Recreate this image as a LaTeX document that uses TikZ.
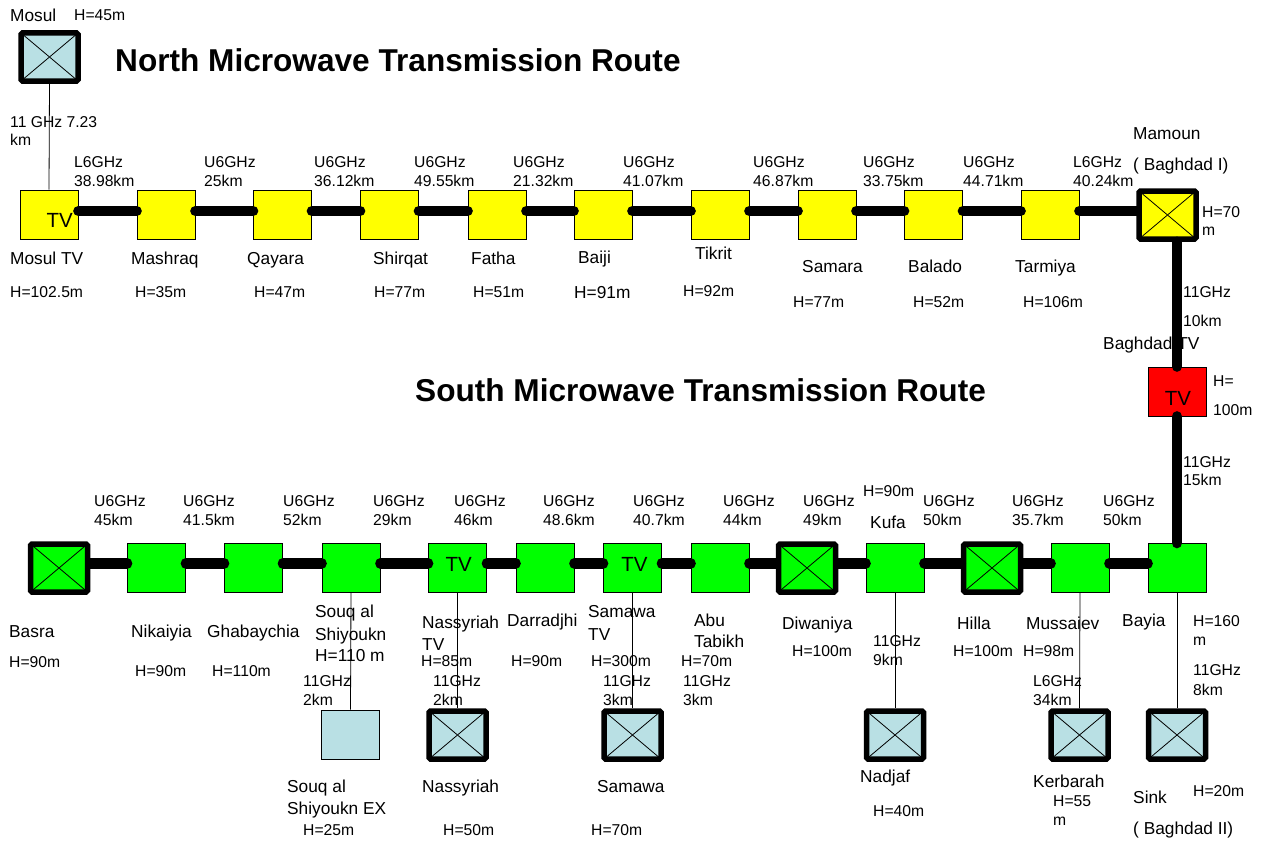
\documentclass[tikz,border=0pt]{standalone}
\usepackage{fontspec}
\setmainfont{Liberation Sans}
\definecolor{lb}{RGB}{185,224,228}
\definecolor{yel}{RGB}{255,255,0}
\definecolor{grn}{RGB}{0,255,0}
\definecolor{rd}{RGB}{255,0,0}
\tikzset{
  sm/.style={font=\fontsize{15.7}{18}\selectfont, anchor=base west, inner sep=0pt},
  bg/.style={font=\fontsize{17.3}{20}\selectfont, anchor=base west, inner sep=0pt},
  ttl/.style={font=\bfseries\fontsize{31.6}{36}\selectfont, anchor=base west, inner sep=0pt},
  tvtxt/.style={font=\fontsize{20.5}{24}\selectfont, anchor=base, inner sep=0pt},
  stbox/.style={draw, line width=0.8pt, minimum width=58pt, minimum height=49pt, inner sep=0pt},
  xbox/.style={draw, line width=5.5pt, rounded corners=1.5pt, minimum width=57pt, minimum height=48pt, inner sep=0pt,
    path picture={\draw[line width=0.8pt] (path picture bounding box.north west) -- (path picture bounding box.south east)
      (path picture bounding box.north east) -- (path picture bounding box.south west);}},
  link/.style={line width=10.5pt, line cap=round},
  spur/.style={line width=0.8pt},
}
\begin{document}
\begin{tikzpicture}[x=1pt,y=-1pt]
\useasboundingbox (0,0) rectangle (1263,843);
\fill[white] (0,0) rectangle (1263,843);
% ---------------- North boxes
\node[xbox, fill=lb] (mosul) at (49.5,57) {};
\node[stbox, fill=yel] (mosultv) at (49,214.5) {};
\node[stbox, fill=yel] (mashraq) at (166,214.5) {};
\node[stbox, fill=yel] (qayara) at (282.5,214.5) {};
\node[stbox, fill=yel] (shirqat) at (389.5,214.5) {};
\node[stbox, fill=yel] (fatha) at (497,214.5) {};
\node[stbox, fill=yel] (baiji) at (603,214.5) {};
\node[stbox, fill=yel] (tikrit) at (720,214.5) {};
\node[stbox, fill=yel] (samara) at (827,214.5) {};
\node[stbox, fill=yel] (balado) at (933.5,214.5) {};
\node[stbox, fill=yel] (tarmiya) at (1050,214.5) {};
\node[xbox, fill=yel] (mamoun) at (1167.5,215) {};
\node[stbox, fill=rd] (btv) at (1177,391.5) {};
% ---------------- South boxes
\node[xbox, fill=grn] (basra) at (59,568) {};
\node[stbox, fill=grn] (nikaiyia) at (156.5,568) {};
\node[stbox, fill=grn] (ghab) at (253.5,568) {};
\node[stbox, fill=grn] (souq) at (351,568) {};
\node[stbox, fill=grn] (nastv) at (457.5,568) {};
\node[stbox, fill=grn] (darr) at (545,568) {};
\node[stbox, fill=grn] (samtv) at (632.5,568) {};
\node[stbox, fill=grn] (abu) at (720,568) {};
\node[xbox, fill=grn] (diwan) at (807,568) {};
\node[stbox, fill=grn] (kufa) at (895,568) {};
\node[xbox, fill=grn] (hilla) at (992,568) {};
\node[stbox, fill=grn] (muss) at (1080,568) {};
\node[stbox, fill=grn] (bayia) at (1177,568) {};
% ---------------- Spur boxes
\node[stbox, fill=lb] (souqex) at (350.5,734.5) {};
\node[xbox, fill=lb] (nass) at (457.5,735) {};
\node[xbox, fill=lb] (samawa) at (632.5,735) {};
\node[xbox, fill=lb] (nadjaf) at (895,735) {};
\node[xbox, fill=lb] (kerb) at (1079.5,735) {};
\node[xbox, fill=lb] (sink) at (1177,735) {};
% ---------------- TV marks
\node[tvtxt] (tv1) at (59.7,227.3) {TV};
\node[tvtxt] (tv2) at (1178,405.7) {TV};
\node[tvtxt] (tv3) at (458.7,571.7) {TV};
\node[tvtxt] (tv4) at (634.5,571.7) {TV};
% ---------------- North links
\foreach \a/\b in {mosultv/mashraq, mashraq/qayara, qayara/shirqat, shirqat/fatha, fatha/baiji, baiji/tikrit, tikrit/samara, samara/balado, balado/tarmiya}
  \draw[link] ([yshift=3.5pt]\a.east) -- ([yshift=3.5pt]\b.west);
\draw[link] ([yshift=3.5pt]tarmiya.east) -- ([yshift=4pt]mamoun.west);
\draw[link] (mamoun.south -| btv.north) -- (btv.north);
\draw[link] (btv.south) -- (bayia.north);
% ---------------- South links
\foreach \a/\b in {basra/nikaiyia, nikaiyia/ghab, ghab/souq, souq/nastv, nastv/darr, darr/samtv, samtv/abu, abu/diwan, diwan/kufa, kufa/hilla, hilla/muss, muss/bayia}
  \draw[link] ([yshift=4.7pt]\a.east) -- ([yshift=4.7pt]\b.west);
% ---------------- Spurs
\draw[spur] (mosul.south) -- (mosultv.north);
\draw[spur] (souq.south) -- (souqex.north);
\draw[spur] (nastv.south) -- (nass.north);
\draw[spur] (samtv.south) -- (samawa.north);
\draw[spur] (kufa.south) -- (nadjaf.north);
\draw[spur] (muss.south) -- (kerb.north);
\draw[spur] (bayia.south) -- (sink.north);
% ---------------- Titles
\node[ttl] (ttln) at (115,71.7) {North Microwave Transmission Route};
\node[ttl] (ttls) at (415,401.7) {South Microwave Transmission Route};
% ---------------- North labels
\node[bg] (a01) at (10,21.5) {Mosul};
\node[sm] (a02) at (74,20.7) {H=45m};
\node[sm] (a03) at (10,127.7) {11 GHz 7.23};
\node[sm] (a04) at (10,145.7) {km};
\node[sm] (b01) at (74,167.3) {L6GHz};    \node[sm] (b02) at (74,186.5) {38.98km};
\node[sm] (b03) at (204,167.3) {U6GHz};   \node[sm] (b04) at (204,186.5) {25km};
\node[sm] (b05) at (314,167.3) {U6GHz};   \node[sm] (b06) at (314,186.5) {36.12km};
\node[sm] (b07) at (414,167.3) {U6GHz};   \node[sm] (b08) at (414,186.5) {49.55km};
\node[sm] (b09) at (513,167.3) {U6GHz};   \node[sm] (b10) at (513,186.5) {21.32km};
\node[sm] (b11) at (623,167.3) {U6GHz};   \node[sm] (b12) at (623,186.5) {41.07km};
\node[sm] (b13) at (753,167.3) {U6GHz};   \node[sm] (b14) at (753,186.5) {46.87km};
\node[sm] (b15) at (863,167.3) {U6GHz};   \node[sm] (b16) at (863,186.5) {33.75km};
\node[sm] (b17) at (963,167.3) {U6GHz};   \node[sm] (b18) at (963,186.5) {44.71km};
\node[sm] (b19) at (1073,167.3) {L6GHz};  \node[sm] (b20) at (1073,186.5) {40.24km};
\node[bg] (c01) at (1133,139.3) {Mamoun};
\node[bg] (c02) at (1133,170.5) {( Baghdad I)};
\node[sm] (c03) at (1202,217.3) {H=70};
\node[sm] (c04) at (1202,235.7) {m};
\node[bg] (d01) at (10,264.3) {Mosul TV};
\node[bg] (d02) at (131,264.3) {Mashraq};
\node[bg] (d03) at (247,264.3) {Qayara};
\node[bg] (d04) at (373,264.3) {Shirqat};
\node[bg] (d05) at (471,264.3) {Fatha};
\node[bg] (d06) at (578,263.5) {Baiji};
\node[bg] (d07) at (695,259) {Tikrit};
\node[bg] (d08) at (802,272.7) {Samara};
\node[bg] (d09) at (908,272.7) {Balado};
\node[bg] (d10) at (1015,272.7) {Tarmiya};
\node[sm] (e01) at (10,297.3) {H=102.5m};
\node[sm] (e02) at (135,297.3) {H=35m};
\node[sm] (e03) at (254,297.3) {H=47m};
\node[sm] (e04) at (374,297.3) {H=77m};
\node[sm] (e05) at (473,297.3) {H=51m};
\node[bg] (e06) at (574,298.3) {H=91m};
\node[sm] (e07) at (683,296.7) {H=92m};
\node[sm] (e08) at (793,307.3) {H=77m};
\node[sm] (e09) at (913,307.3) {H=52m};
\node[sm] (e10) at (1023,307.3) {H=106m};
% ---------------- Vertical trunk labels
\node[sm] (f01) at (1183,297.3) {11GHz};
\node[sm] (f02) at (1183,326) {10km};
\node[bg] (f03) at (1103,349) {Baghdad TV};
\node[sm] (f04) at (1213,386.7) {H=};
\node[sm] (f05) at (1213,415) {100m};
\node[sm] (f06) at (1183,467.3) {11GHz};
\node[sm] (f07) at (1183,485.7) {15km};
% ---------------- South link labels
\node[sm] (g01) at (94,506) {U6GHz};    \node[sm] (g02) at (94,525) {45km};
\node[sm] (g03) at (183,506) {U6GHz};   \node[sm] (g04) at (183,525) {41.5km};
\node[sm] (g05) at (283,506) {U6GHz};   \node[sm] (g06) at (283,525) {52km};
\node[sm] (g07) at (373,506) {U6GHz};   \node[sm] (g08) at (373,525) {29km};
\node[sm] (g09) at (454,506) {U6GHz};   \node[sm] (g10) at (454,525) {46km};
\node[sm] (g11) at (543,506) {U6GHz};   \node[sm] (g12) at (543,525) {48.6km};
\node[sm] (g13) at (633,506) {U6GHz};   \node[sm] (g14) at (633,525) {40.7km};
\node[sm] (g15) at (723,506) {U6GHz};   \node[sm] (g16) at (723,525) {44km};
\node[sm] (g17) at (803,506) {U6GHz};   \node[sm] (g18) at (803,525) {49km};
\node[sm] (g19) at (923,506) {U6GHz};   \node[sm] (g20) at (923,525) {50km};
\node[sm] (g21) at (1012,506) {U6GHz};  \node[sm] (g22) at (1012,525) {35.7km};
\node[sm] (g23) at (1103,506) {U6GHz};  \node[sm] (g24) at (1103,525) {50km};
\node[sm] (g25) at (863,496.7) {H=90m};
\node[bg] (g26) at (870,528.3) {Kufa};
% ---------------- South station labels
\node[bg] (h01) at (9,637.3) {Basra};
\node[sm] (h02) at (9,667.3) {H=90m};
\node[bg] (h03) at (131,637.3) {Nikaiyia};
\node[sm] (h04) at (135,676.7) {H=90m};
\node[bg] (h05) at (207,637.3) {Ghabaychia};
\node[sm] (h06) at (212,676.7) {H=110m};
\node[bg] (h07) at (315,617.7) {Souq al};
\node[bg] (h08) at (315,640) {Shiyoukn};
\node[bg] (h09) at (315,661) {H=110 m};
\node[bg] (h10) at (422,628.3) {Nassyriah};
\node[bg] (h11) at (422,650) {TV};
\node[sm] (h12) at (421,666.7) {H=85m};
\node[bg] (h13) at (507,626.7) {Darradjhi};
\node[sm] (h14) at (511,666.7) {H=90m};
\node[bg] (h15) at (588,617.3) {Samawa};
\node[bg] (h16) at (588,640) {TV};
\node[sm] (h17) at (591,666.7) {H=300m};
\node[bg] (h18) at (694,626.7) {Abu};
\node[bg] (h19) at (694,647.3) {Tabikh};
\node[sm] (h20) at (681,666.7) {H=70m};
\node[bg] (h21) at (782,629) {Diwaniya};
\node[sm] (h22) at (792,656.7) {H=100m};
\node[sm] (h23) at (873,646.7) {11GHz};
\node[sm] (h24) at (873,665.7) {9km};
\node[bg] (h25) at (957,629) {Hilla};
\node[sm] (h26) at (953,656.7) {H=100m};
\node[bg] (h27) at (1026,629) {Mussaiev};
\node[sm] (h28) at (1023,656.7) {H=98m};
\node[bg] (h29) at (1122,626.7) {Bayia};
\node[sm] (h30) at (1193,626.7) {H=160};
\node[sm] (h31) at (1193,645.7) {m};
\node[sm] (h32) at (1193,675) {11GHz};
\node[sm] (h33) at (1193,695.7) {8km};
% ---------------- Spur labels
\node[sm] (i01) at (303,686.7) {11GHz};  \node[sm] (i02) at (303,705) {2km};
\node[sm] (i03) at (433,686.7) {11GHz};  \node[sm] (i04) at (433,705) {2km};
\node[sm] (i05) at (603,686.7) {11GHz};  \node[sm] (i06) at (603,705) {3km};
\node[sm] (i07) at (683,686.7) {11GHz};  \node[sm] (i08) at (683,705) {3km};
\node[sm] (i09) at (1033,686.7) {L6GHz}; \node[sm] (i10) at (1033,705.7) {34km};
% ---------------- Bottom labels
\node[bg] (j01) at (287,792.7) {Souq al};
\node[bg] (j02) at (287,814) {Shiyoukn EX};
\node[sm] (j03) at (303,835) {H=25m};
\node[bg] (j04) at (422,792.7) {Nassyriah};
\node[sm] (j05) at (443,835) {H=50m};
\node[bg] (j06) at (597,792.7) {Samawa};
\node[sm] (j07) at (591,835) {H=70m};
\node[bg] (j08) at (860,782.7) {Nadjaf};
\node[sm] (j09) at (873,816.7) {H=40m};
\node[bg] (j10) at (1033,787.7) {Kerbarah};
\node[sm] (j11) at (1053,806.7) {H=55};
\node[sm] (j12) at (1053,825) {m};
\node[bg] (j13) at (1133,803.3) {Sink};
\node[sm] (j14) at (1193,796.7) {H=20m};
\node[bg] (j15) at (1133,834.5) {( Baghdad II)};
\end{tikzpicture}
\end{document}
